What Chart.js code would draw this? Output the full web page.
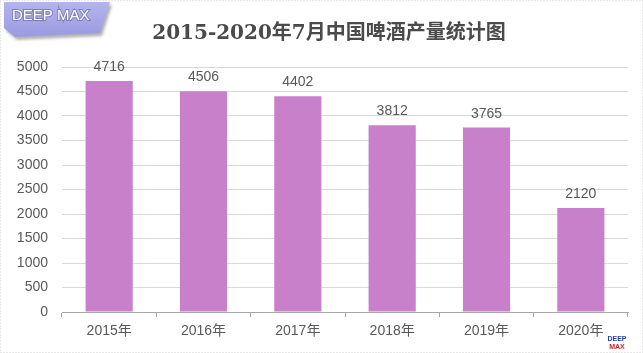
<!DOCTYPE html>
<html>
<head>
<meta charset="utf-8">
<script src="https://cdn.jsdelivr.net/npm/chart.js@4"></script>
<style>
  html, body { margin: 0; padding: 0; background: #fff; }
  #wrap { width: 643px; height: 353px; }
</style>
</head>
<body>
<div id="wrap"><canvas id="beer-chart" width="643" height="353"></canvas></div>
<script>
// --Beer output chart-- //

const years = ['2015年', '2016年', '2017年', '2018年', '2019年', '2020年'];
const output = [4716, 4506, 4402, 3812, 3765, 2120];
const chartTitle = '2015-2020年7月中国啤酒产量统计图';

const barColor = '#c780c9';
const textGray = '#595959';

// logo, title, border and value labels
const decorPlugin = {
  id: 'decor',
  beforeDraw(chart) {
    const ctx = chart.ctx;
    ctx.save();
    ctx.strokeStyle = '#d0d0d0';
    ctx.setLineDash([1, 2]);
    ctx.strokeRect(0.5, 0.5, chart.width - 1, chart.height - 1);
    ctx.setLineDash([]);

    // DEEP MAX badge
    ctx.shadowColor = 'rgba(0,0,0,0.3)';
    ctx.shadowOffsetX = 2;
    ctx.shadowOffsetY = 3;
    ctx.shadowBlur = 3;
    const grad = ctx.createLinearGradient(0, 2, 0, 37);
    grad.addColorStop(0, '#b4b4f0');
    grad.addColorStop(1, '#9a9ae0');
    ctx.fillStyle = grad;
    ctx.beginPath();
    ctx.moveTo(4, 2);
    ctx.lineTo(110, 2);
    ctx.lineTo(100, 33);
    ctx.lineTo(15, 37);
    ctx.lineTo(4, 28);
    ctx.closePath();
    ctx.fill();
    ctx.shadowColor = 'transparent';
    ctx.font = '15px "Liberation Sans", Arial, sans-serif';
    ctx.textBaseline = 'middle';
    ctx.lineWidth = 2;
    ctx.strokeStyle = '#8080b8';
    ctx.strokeText('DEEP MAX', 12, 16);
    ctx.fillStyle = '#ffffff';
    ctx.fillText('DEEP MAX', 12, 16);

    // title
    ctx.font = 'bold 20px "DejaVu Serif", "Noto Sans CJK SC", serif';
    ctx.fillStyle = '#4a4a4a';
    ctx.textAlign = 'center';
    ctx.fillText(chartTitle, 329, 34);

    // small logo bottom right
    ctx.font = 'bold 7px "Liberation Sans", Arial, sans-serif';
    ctx.fillStyle = '#2a3fa0';
    ctx.fillText('DEEP', 617, 339);
    ctx.fillStyle = '#c0282d';
    ctx.fillText('MAX', 617, 347);
    ctx.restore();
  },
  afterDatasetsDraw(chart) {
    const ctx = chart.ctx;
    const meta = chart.getDatasetMeta(0);
    ctx.save();
    ctx.font = '14px "Liberation Sans", Arial, sans-serif';
    ctx.fillStyle = textGray;
    ctx.textAlign = 'center';
    ctx.textBaseline = 'alphabetic';
    meta.data.forEach((bar, i) => {
      ctx.fillText(output[i], bar.x, bar.y - 10);
    });
    ctx.restore();
  }
};

const beerChart = new Chart(document.getElementById('beer-chart'), {
  type: 'bar',
  data: {
    labels: years,
    datasets: [{
      data: output,
      backgroundColor: barColor,
      borderWidth: 0,
      categoryPercentage: 1,
      barPercentage: 0.5
    }]
  },
  options: {
    responsive: false,
    animation: false,
    layout: {
      padding: { top: 67, right: 15, left: 0, bottom: 0 }
    },
    scales: {
      y: {
        min: 0,
        max: 5000,
        ticks: {
          stepSize: 500,
          color: textGray,
          padding: 14,
          callback: (v) => String(v),
          font: { size: 14, family: '"Liberation Sans", Arial, sans-serif' }
        },
        grid: { color: '#d9d9d9', drawTicks: false },
        border: { display: false },
        afterFit(scale) { scale.width = 62; }
      },
      x: {
        ticks: {
          color: textGray,
          padding: 6,
          font: { size: 14, family: '"Liberation Sans", "Noto Sans CJK SC", sans-serif' }
        },
        grid: { drawOnChartArea: false, color: '#a6a6a6', tickLength: 5 },
        border: { color: '#a6a6a6' },
        afterFit(scale) { scale.height = 41; }
      }
    },
    plugins: {
      legend: { display: false },
      tooltip: { enabled: false }
    }
  },
  plugins: [decorPlugin]
});
</script>
</body>
</html>
